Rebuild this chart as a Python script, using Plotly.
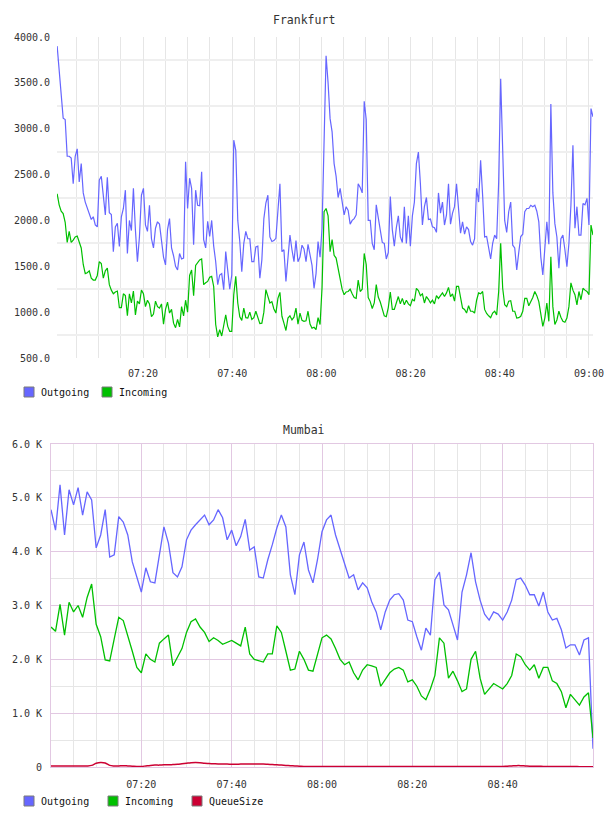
import plotly.graph_objects as go
import pandas as pd

# ---------------- data ----------------
FRA_START = "2024-01-01 07:00:45"
FRA_STEP = "27s"
fra_outgoing = [
    3900, 3620, 3440, 3115, 3100, 2700, 2700, 2680, 2400, 2700,
    2780, 2420, 2620, 2300, 2200, 2140, 2080, 2010, 2040, 1950,
    1930, 2440, 2480, 2300, 2060, 2470, 2085, 2065, 1660, 1930,
    1970, 1715, 2040, 2130, 2330, 1640, 2000, 1890, 2350, 1895,
    1550, 1820, 2275, 2350, 1950, 1880, 2165, 1800, 1700, 1915,
    1985, 1960, 1800, 1600, 1515, 1900, 2020, 1700, 1615, 1500,
    1460, 1640, 1580, 1590, 2640, 2130, 2460, 2350, 1735,
    2330, 2165, 2160, 2530, 1790, 1700, 1990, 1825, 2000, 1720,
    1550, 1300, 1405, 1420, 1245, 1660, 1420, 1250, 1405, 2875,
    2765, 2000, 1770, 1440, 1750, 1880, 1800, 1800, 1550, 1550,
    1710, 1720, 1370, 1570, 2020, 2190, 2275, 1820, 1770, 1780,
    1805, 2100, 2400, 1660, 1680, 1335, 1600, 1840, 1680, 1550,
    1780, 1550, 1600, 1730, 1690, 1550, 1740, 1625, 1510, 1260,
    1420, 1770, 1600, 1915, 3000, 3795, 3500, 3110,
    2965, 2620, 2480, 2250, 2350, 2200, 2060, 2150, 2110, 1960,
    2000, 2020, 2060, 2400, 2360, 2300, 3300, 3100, 2000, 2000,
    1750, 1680, 2170, 2030, 1880, 1760, 1750, 1580, 1650, 2260,
    1900, 1720, 1920, 2050, 1820, 1760, 2150, 1750, 2050, 1720,
    2050, 2200, 2620, 2745, 2400, 1950, 2150, 2250, 2010, 2015,
    1930, 1920, 1870, 2300, 2080, 2200, 1950, 2060, 2400, 1960,
    2080, 2150, 2400, 2150, 1860,
    1985, 1850, 1930, 1900, 1770, 1730, 1800, 2350, 2200, 2655,
    2275, 1820, 1825, 1700, 1580, 1750, 1840, 1800, 2420, 3545,
    2600, 2000, 1870, 2095, 2200, 1730, 1700, 1460, 1650, 1825,
    1850, 2095, 2130, 2130, 2165, 2150, 2165, 2100, 1985, 1600,
    1405, 1680, 1985, 1740, 3270, 2300, 1965, 1820, 1480, 1800,
    1840, 1680, 1495, 1750, 2165, 2820, 1915, 2150, 1840, 1840,
    2185, 2170, 2240, 1950, 3220, 3130,
]
fra_incoming = [
    2290, 2170, 2100, 2075, 1980, 1760, 1880, 1760, 1785, 1820,
    1830, 1770, 1700, 1520, 1420, 1430, 1450, 1370, 1350, 1350,
    1400, 1550, 1530, 1370, 1450, 1480, 1300, 1240, 1200, 1220,
    1230, 1050, 1050, 1200, 1180, 960, 1200, 1100, 1230, 970,
    1120, 1090, 1240, 1200, 1060, 1130, 1090, 950, 980, 1120,
    1060, 1045, 1090, 870, 1030, 1110, 990, 1030, 880, 830,
    920, 840, 1060, 960, 1130, 1000, 1400, 1460, 1180,
    1510, 1545, 1570, 1580, 1300, 1320, 1335, 1380, 1390, 1280,
    865, 730, 810, 740, 865, 970, 845, 790, 790, 1190,
    1390, 1100, 950, 910, 1045, 940, 935, 1000, 920, 940,
    1010, 945, 875, 880, 1000, 1245, 1160, 1100, 1115, 1035,
    990, 1150, 1215, 955, 880, 800, 935, 960, 915, 945,
    1045, 870, 990, 910, 900, 905, 1010, 870, 825, 835,
    810, 940, 865, 1270, 2095, 2130, 2050, 1660,
    1790, 1620, 1590, 1470, 1370, 1250, 1190, 1220, 1225, 1250,
    1200, 1160, 1150, 1350, 1225, 1250, 1640, 1520, 1160, 1115,
    1040, 1100, 1300, 1165, 1110, 1040, 960, 950, 1050, 1220,
    1030, 1030, 1100, 1170, 1090, 1150, 1080, 1130, 1090, 1070,
    1140, 1120, 1260, 1235, 1180, 1200, 1100, 1170, 1140, 1100,
    1130, 1090, 1180, 1150, 1180, 1210, 1170, 1210, 1270, 1170,
    1200, 1120, 1280, 1280, 1160,
    1045, 1030, 990, 1070, 1010, 1010, 990, 1130, 1210, 1200,
    1225, 1030, 985, 960, 940, 990, 1010, 970, 1225, 1750,
    1260, 1080, 1060, 1120, 1125, 1010, 1010, 935, 940, 955,
    1010, 1150, 1150, 1070, 1115, 1160, 1225, 1180, 1115, 955,
    845, 935, 1100, 900, 1605, 1060, 865, 915, 1010, 945,
    900, 890, 935, 1060, 1320, 1240, 1190, 1080, 1225, 1135,
    1260, 1240, 1225, 1190, 1950, 1840,
]
fra_yticks = [500, 1000, 1500, 2000, 2500, 3000, 3500, 4000]
fra_ytext = ["500.0", "1000.0", "1500.0", "2000.0", "2500.0", "3000.0", "3500.0", "4000.0"]
fra_ygrid = [750, 1250, 1750, 2250, 2750, 3250, 3750]

MUM_START = "2024-01-01 07:00:00"
MUM_STEP = "60s"
mum_outgoing = [
    4780, 4400, 5240, 4310, 5150, 4870, 5190, 4680, 5110, 4960,
    4070, 4310, 4780, 3900, 3940, 4650, 4550, 4310, 3810, 3510,
    3250, 3700, 3440, 3420, 3920, 4460, 4160, 3610, 3530, 3720,
    4220, 4400, 4500, 4590, 4680, 4500, 4590, 4780, 4630, 4220,
    4400, 4110, 4280, 4600, 4030, 4090, 3530, 3510, 3850, 4130,
    4440, 4680, 4460, 3570, 3200, 3940, 4180, 3660, 3420, 3850,
    4370, 4590, 4680, 4310, 4030, 3750, 3510, 3570, 3290, 3420,
    3330, 3070, 2880, 2550, 2880, 3100, 3200, 3220, 3100, 2730,
    2700, 2420, 2170, 2580, 2450, 3480, 3620, 3010, 2920, 2640,
    2360, 3250, 3570, 3980, 3440, 3100, 2840, 2730, 2880, 2840,
    2730, 2880, 3100, 3480, 3510, 3380, 3200, 3200, 2990, 3250,
    2880, 2730, 2760, 2550, 2210, 2270, 2270, 2080, 2360, 2400,
    340,
]
mum_incoming = [
    2600, 2520, 3020, 2450, 3060, 2880, 3000, 2780, 3150, 3400,
    2650, 2420, 1990, 1970, 2380, 2780, 2720, 2450, 2150, 1850,
    1750, 2100, 2000, 1950, 2300, 2380, 2450, 1880, 2050, 2200,
    2500, 2700, 2750, 2600, 2500, 2330, 2400, 2350, 2280, 2320,
    2350, 2300, 2250, 2600, 2100, 2000, 1980, 1950, 2100, 2100,
    2620, 2500, 2150, 1800, 1820, 2150, 2000, 1800, 1780, 2100,
    2400, 2450, 2380, 2200, 2000, 1900, 1950, 1750, 1620, 1800,
    1900, 1880, 1850, 1500, 1620, 1750, 1820, 1850, 1800, 1580,
    1620, 1500, 1320, 1250, 1450, 1700, 2400, 2300, 1650, 1780,
    1600, 1400, 1450, 2000, 2150, 1650, 1350, 1450, 1550, 1500,
    1450, 1550, 1700, 2100, 2050, 1900, 1800, 1900, 1650, 1850,
    1850, 1600, 1550, 1400, 1100, 1350, 1250, 1150, 1300, 1380,
    540,
]
mum_queue = [
    20, 20, 20, 20, 20, 20, 20, 20, 20, 30,
    70, 85, 75, 30, 20, 20, 25, 20, 15, 10,
    10, 20, 30, 35, 35, 40, 40, 45, 50, 60,
    70, 80, 85, 80, 70, 65, 60, 55, 55, 55,
    50, 50, 55, 55, 55, 55, 55, 55, 50, 45,
    40, 35, 30, 25, 20, 15, 10, 10, 10, 10,
    10, 10, 10, 10, 10, 10, 10, 10, 10, 10,
    10, 10, 10, 10, 10, 10, 10, 10, 10, 10,
    10, 10, 10, 10, 10, 10, 10, 10, 10, 10,
    10, 10, 10, 10, 10, 10, 10, 10, 10, 10,
    10, 15, 20, 25, 25, 20, 15, 15, 15, 10,
    10, 10, 10, 10, 10, 10, 10, 5, 5, 5,
    5,
]
mum_yticks = [0, 1000, 2000, 3000, 4000, 5000, 6000]
mum_ytext = ["0", "1.0 K", "2.0 K", "3.0 K", "4.0 K", "5.0 K", "6.0 K"]
mum_ygrid = [500, 1500, 2500, 3500, 4500, 5500]

time_ticks = ["2024-01-01 07:20", "2024-01-01 07:40", "2024-01-01 08:00",
              "2024-01-01 08:20", "2024-01-01 08:40", "2024-01-01 09:00"]
time_text = ["07:20", "07:40", "08:00", "08:20", "08:40", "09:00"]

fra_legend = ["Outgoing", "Incoming"]
mum_legend = ["Outgoing", "Incoming", "QueueSize"]

# ---------------- styling ----------------
BLUE = "#6666ff"
GREEN = "#00c000"
RED = "#cc0033"
PINK = "#e2c8e2"
GRID = "#e6e6e6"
FONT = "DejaVu Sans Mono"
W, H = 608, 816

fra_t = pd.date_range(FRA_START, periods=len(fra_outgoing), freq=FRA_STEP)
mum_t = pd.date_range(MUM_START, periods=len(mum_outgoing), freq=MUM_STEP)

fig = go.Figure()
fig.add_trace(go.Scatter(x=fra_t, y=fra_outgoing, mode="lines", name=fra_legend[0],
                         line=dict(color=BLUE, width=1.2), showlegend=False, xaxis="x", yaxis="y"))
fig.add_trace(go.Scatter(x=fra_t, y=fra_incoming, mode="lines", name=fra_legend[1],
                         line=dict(color=GREEN, width=1.2), showlegend=False, xaxis="x", yaxis="y"))
fig.add_trace(go.Scatter(x=mum_t, y=mum_outgoing, mode="lines", name=mum_legend[0],
                         line=dict(color=BLUE, width=1.3), showlegend=False, xaxis="x2", yaxis="y2"))
fig.add_trace(go.Scatter(x=mum_t, y=mum_incoming, mode="lines", name=mum_legend[1],
                         line=dict(color=GREEN, width=1.3), showlegend=False, xaxis="x2", yaxis="y2"))
fig.add_trace(go.Scatter(x=mum_t, y=mum_queue, mode="lines", name=mum_legend[2],
                         line=dict(color=RED, width=1.5, shape="spline"),
                         showlegend=False, xaxis="x2", yaxis="y2"))


def px_x(a, b):
    return [a / W, b / W]


def px_y(top, bottom):
    return [1 - bottom / H, 1 - top / H]


tickfont = dict(family=FONT, size=10, color="#333333")

# legend built from swatch squares + text (layout positions in pixels)
shapes, annotations = [], []
legend_specs = [
    (fra_legend, [BLUE, GREEN], [24, 102], 392),
    (mum_legend, [BLUE, GREEN, RED], [24, 108, 192], 801),
]
for names, cols, xs, yc in legend_specs:
    for name, col, x0 in zip(names, cols, xs):
        shapes.append(dict(type="rect", xref="paper", yref="paper",
                           x0=x0 / W, x1=(x0 + 10) / W,
                           y0=1 - (yc + 5) / H, y1=1 - (yc - 5) / H,
                           fillcolor=col, line=dict(color="#7a7a7a", width=1)))
        annotations.append(dict(text=name, x=(x0 + 14.5) / W, y=1 - yc / H,
                                xref="paper", yref="paper", xanchor="left", yanchor="middle",
                                showarrow=False,
                                font=dict(family=FONT, size=10, color="#111111")))

annotations += [
    dict(text="Frankfurt", x=0.5, y=1 - 20 / H, xref="paper", yref="paper",
         xanchor="center", yanchor="middle", showarrow=False,
         font=dict(family=FONT, size=11.5, color="#333333")),
    dict(text="Mumbai", x=0.5, y=1 - 430 / H, xref="paper", yref="paper",
         xanchor="center", yanchor="middle", showarrow=False,
         font=dict(family=FONT, size=11.5, color="#333333")),
]

fig.update_layout(
    width=W, height=H, autosize=False,
    margin=dict(l=0, r=0, t=0, b=0, pad=0, autoexpand=False),
    paper_bgcolor="white", plot_bgcolor="white",
    font=dict(family=FONT, size=10, color="#333333"),
    showlegend=False,
    xaxis=dict(domain=px_x(57, 593), anchor="y", type="date", automargin=False,
               range=["2024-01-01 07:00:43", "2024-01-01 09:00:54"],
               tickmode="array", tickvals=time_ticks, ticktext=time_text,
               showgrid=True, gridcolor=GRID, gridwidth=1, zeroline=False, showline=False,
               ticks="", tickfont=tickfont, ticklabelstandoff=8,
               minor=dict(dtick=300000, tick0="2024-01-01 07:00", showgrid=True,
                          gridcolor=GRID, gridwidth=1, ticks="")),
    yaxis=dict(domain=px_y(37, 358), anchor="x", range=[500, 4000], automargin=False,
               tickmode="array", tickvals=fra_yticks, ticktext=fra_ytext,
               showgrid=False, zeroline=False, showline=False, ticks="",
               tickfont=tickfont, ticklabelstandoff=6,
               minor=dict(tickmode="array", tickvals=fra_ygrid, showgrid=True,
                          gridcolor="#efefef", gridwidth=2, ticks="")),
    xaxis2=dict(domain=px_x(51, 593), anchor="y2", type="date", automargin=False,
                range=["2024-01-01 07:00:00", "2024-01-01 09:00:00"],
                tickmode="array", tickvals=time_ticks[:-1], ticktext=time_text[:-1],
                showgrid=True, gridcolor=PINK, gridwidth=1, zeroline=False,
                showline=True, linecolor=PINK, linewidth=1, mirror=True,
                ticks="", tickfont=tickfont, ticklabelstandoff=8,
                minor=dict(dtick=300000, tick0="2024-01-01 07:00", showgrid=True,
                           gridcolor=GRID, gridwidth=1, ticks="")),
    yaxis2=dict(domain=px_y(444, 767), anchor="x2", range=[0, 6000], automargin=False,
                tickmode="array", tickvals=mum_yticks, ticktext=mum_ytext,
                showgrid=True, gridcolor=PINK, gridwidth=1, zeroline=False,
                showline=True, linecolor=PINK, linewidth=1, mirror=True,
                ticks="", tickfont=tickfont, ticklabelstandoff=6,
                minor=dict(tickmode="array", tickvals=mum_ygrid, showgrid=True,
                           gridcolor=GRID, gridwidth=1, ticks="")),
    shapes=shapes,
    annotations=annotations,
)

fig.write_html("out.html", post_script="document.body.style.margin='0';document.body.style.overflow='hidden';")
